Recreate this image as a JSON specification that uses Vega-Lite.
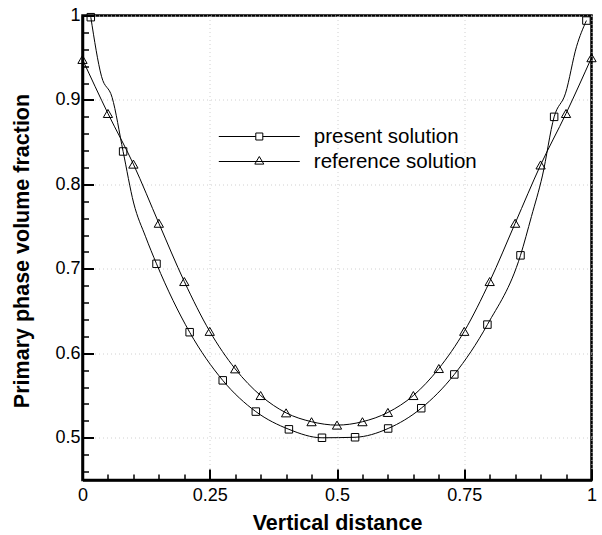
{
  "$schema": "https://vega.github.io/schema/vega-lite/v6.json",
  "autosize": {"type": "none"},
  "padding": {"left": 82.5, "top": 15.5, "right": 10.5, "bottom": 55},
  "width": 509,
  "height": 464.5,
  "background": "white",
  "config": {
    "view": {"stroke": "black", "strokeWidth": 2.5},
    "font": "Liberation Sans",
    "axis": {
      "labelFont": "Liberation Sans",
      "labelFontSize": 18,
      "labelColor": "black",
      "titleFont": "Liberation Sans",
      "titleFontSize": 21.5,
      "titleFontWeight": "bold",
      "titleColor": "black",
      "domainColor": "black",
      "domainWidth": 2.5,
      "tickColor": "black",
      "gridColor": "#d0d0d0",
      "gridDash": [1, 3],
      "gridWidth": 1
    }
  },
  "datasets": {
    "curves": [
      {"series": "present solution", "x": 0.0163, "y": 0.998, "m": 1},
      {"series": "present solution", "x": 0.0373, "y": 0.928, "m": 0},
      {"series": "present solution", "x": 0.0582, "y": 0.903, "m": 0},
      {"series": "present solution", "x": 0.0798, "y": 0.839, "m": 1},
      {"series": "present solution", "x": 0.1005, "y": 0.778, "m": 0},
      {"series": "present solution", "x": 0.124, "y": 0.738, "m": 0},
      {"series": "present solution", "x": 0.1454, "y": 0.706, "m": 1},
      {"series": "present solution", "x": 0.2105, "y": 0.625, "m": 1},
      {"series": "present solution", "x": 0.2755, "y": 0.568, "m": 1},
      {"series": "present solution", "x": 0.3405, "y": 0.531, "m": 1},
      {"series": "present solution", "x": 0.4055, "y": 0.51, "m": 1},
      {"series": "present solution", "x": 0.4705, "y": 0.5, "m": 1},
      {"series": "present solution", "x": 0.5355, "y": 0.5006, "m": 1},
      {"series": "present solution", "x": 0.6005, "y": 0.511, "m": 1},
      {"series": "present solution", "x": 0.6655, "y": 0.535, "m": 1},
      {"series": "present solution", "x": 0.7305, "y": 0.575, "m": 1},
      {"series": "present solution", "x": 0.7955, "y": 0.634, "m": 1},
      {"series": "present solution", "x": 0.8605, "y": 0.716, "m": 1},
      {"series": "present solution", "x": 0.882, "y": 0.762, "m": 0},
      {"series": "present solution", "x": 0.9035, "y": 0.81, "m": 0},
      {"series": "present solution", "x": 0.9266, "y": 0.88, "m": 1},
      {"series": "present solution", "x": 0.949, "y": 0.908, "m": 0},
      {"series": "present solution", "x": 0.9705, "y": 0.963, "m": 0},
      {"series": "present solution", "x": 0.99, "y": 0.994, "m": 1},
      {"series": "reference solution", "x": 0, "y": 0.948, "m": 1},
      {"series": "reference solution", "x": 0.05, "y": 0.884, "m": 1},
      {"series": "reference solution", "x": 0.1, "y": 0.824, "m": 1},
      {"series": "reference solution", "x": 0.15, "y": 0.754, "m": 1},
      {"series": "reference solution", "x": 0.2, "y": 0.685, "m": 1},
      {"series": "reference solution", "x": 0.25, "y": 0.626, "m": 1},
      {"series": "reference solution", "x": 0.3, "y": 0.5816, "m": 1},
      {"series": "reference solution", "x": 0.35, "y": 0.55, "m": 1},
      {"series": "reference solution", "x": 0.4, "y": 0.5295, "m": 1},
      {"series": "reference solution", "x": 0.45, "y": 0.519, "m": 1},
      {"series": "reference solution", "x": 0.5, "y": 0.515, "m": 1},
      {"series": "reference solution", "x": 0.55, "y": 0.519, "m": 1},
      {"series": "reference solution", "x": 0.6, "y": 0.53, "m": 1},
      {"series": "reference solution", "x": 0.65, "y": 0.55, "m": 1},
      {"series": "reference solution", "x": 0.7, "y": 0.582, "m": 1},
      {"series": "reference solution", "x": 0.75, "y": 0.626, "m": 1},
      {"series": "reference solution", "x": 0.8, "y": 0.685, "m": 1},
      {"series": "reference solution", "x": 0.85, "y": 0.754, "m": 1},
      {"series": "reference solution", "x": 0.9, "y": 0.823, "m": 1},
      {"series": "reference solution", "x": 0.95, "y": 0.884, "m": 1},
      {"series": "reference solution", "x": 1, "y": 0.95, "m": 1}
    ]
  },
  "data": {"name": "curves"},
  "encoding": {
    "x": {
      "field": "x", "type": "quantitative",
      "scale": {"domain": [0, 1], "nice": false, "zero": false},
      "axis": {
        "title": "Vertical distance",
        "values": [0, 0.05, 0.1, 0.15, 0.2, 0.25, 0.3, 0.35, 0.4, 0.45, 0.5, 0.55, 0.6, 0.65, 0.7, 0.75, 0.8, 0.85, 0.9, 0.95, 1],
        "labelExpr": "abs(datum.value*4 - round(datum.value*4)) < 1e-6 ? format(datum.value, '~g') : ''",
        "tickSize": {"condition": {"test": "abs(datum.value*4 - round(datum.value*4)) < 1e-6", "value": -11}, "value": -6},
        "tickWidth": {"condition": {"test": "abs(datum.value*4 - round(datum.value*4)) < 1e-6", "value": 2}, "value": 1.5},
        "gridOpacity": {"condition": {"test": "abs(datum.value*4 - round(datum.value*4)) < 1e-6", "value": 1}, "value": 0},
        "labelPadding": 17,
        "labelFlush": false,
        "labelOverlap": false,
        "titleY": 43,
        "titleBaseline": "middle"
      }
    },
    "y": {
      "field": "y", "type": "quantitative",
      "scale": {"domain": [0.45, 1], "nice": false, "zero": false},
      "axis": {
        "title": "Primary phase volume fraction",
        "values": [0.46, 0.48, 0.5, 0.52, 0.54, 0.56, 0.58, 0.6, 0.62, 0.64, 0.66, 0.68, 0.7, 0.72, 0.74, 0.76, 0.78, 0.8, 0.82, 0.84, 0.86, 0.88, 0.9, 0.92, 0.94, 0.96, 0.98, 1],
        "labelExpr": "abs(datum.value*10 - round(datum.value*10)) < 1e-6 ? format(datum.value, '~g') : ''",
        "tickSize": {"condition": {"test": "abs(datum.value*10 - round(datum.value*10)) < 1e-6", "value": -11}, "value": -6},
        "tickWidth": {"condition": {"test": "abs(datum.value*10 - round(datum.value*10)) < 1e-6", "value": 2}, "value": 1.5},
        "gridOpacity": {"condition": {"test": "abs(datum.value*10 - round(datum.value*10)) < 1e-6", "value": 1}, "value": 0},
        "labelPadding": 13.5,
        "labelFlush": false,
        "labelOverlap": false,
        "titleX": -60,
        "titleY": 235,
        "titleAngle": -90,
        "titleAlign": "center",
        "titleBaseline": "middle"
      }
    }
  },
  "layer": [
    {
      "mark": {"type": "line", "color": "black", "strokeWidth": 1, "interpolate": "monotone"},
      "encoding": {"detail": {"field": "series"}}
    },
    {
      "transform": [{"filter": "datum.series === 'present solution' && datum.m === 1"}],
      "mark": {"type": "point", "shape": "square", "size": 56, "filled": false, "color": "black", "strokeWidth": 1, "opacity": 1}
    },
    {
      "transform": [{"filter": "datum.series === 'reference solution' && datum.m === 1"}],
      "mark": {"type": "point", "shape": "triangle-up", "size": 86, "filled": false, "color": "black", "strokeWidth": 1, "opacity": 1}
    },
    {
      "transform": [{"filter": "datum.m === 1"}],
      "mark": {"type": "point", "filled": false, "color": "black", "opacity": 0, "size": 400},
      "encoding": {
        "shape": {
          "field": "series", "type": "nominal",
          "scale": {
            "domain": ["present solution", "reference solution"],
            "range": [
              "M-4.05,0H-0.35M0.35,0H4.05M-0.35,-0.35H0.35V0.35H-0.35Z",
              "M-4.05,0H4.05M0,-0.5L0.45,0.26L-0.45,0.26Z"
            ]
          },
          "legend": {
            "title": null,
            "orient": "none",
            "legendX": 166.3,
            "legendY": 110.5,
            "padding": 0,
            "rowPadding": 4,
            "symbolSize": 400,
            "symbolOpacity": 1,
            "symbolStrokeColor": "black",
            "symbolFillColor": "transparent",
            "symbolStrokeWidth": 1,
            "labelOffset": 44,
            "labelFont": "Liberation Sans",
            "labelFontSize": 20.5,
            "labelColor": "black",
            "labelLimit": 400
          }
        }
      }
    }
  ]
}
